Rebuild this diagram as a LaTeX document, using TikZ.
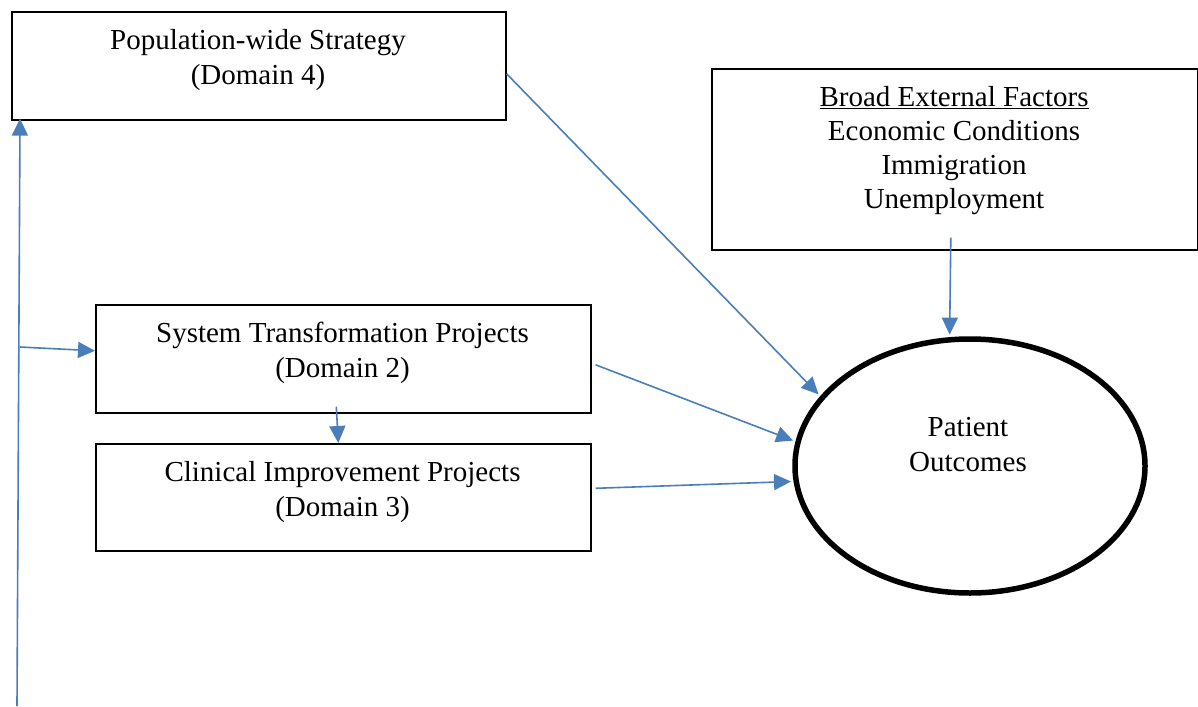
\documentclass[tikz,border=0pt]{standalone}
\usepackage{fontspec}
\setmainfont{Liberation Serif}
\usetikzlibrary{arrows.meta,shapes.geometric}
\definecolor{arrblue}{RGB}{74,126,187}
\begin{document}
\begin{tikzpicture}[x=1pt,y=-1pt,
  box/.style={draw=black, line width=1.6pt, rectangle, inner sep=0pt, anchor=north west},
  txt/.style={align=center, inner sep=0pt, anchor=north, font=\fontsize{29}{35}\selectfont},
  arr/.style={draw=arrblue, line width=1.6pt, -{Triangle[length=17pt,width=16pt]}},
  toell/.style={arr, shorten >=2.5pt}]
\useasboundingbox[fill=white] (0,0) rectangle (1198,706);
% boxes
\node[box, minimum width=494pt, minimum height=108pt] (pop) at (11,11) {};
\node[txt] (popT) at (258,29) {Population-wide Strategy\\(Domain 4)};
\node[box, minimum width=486pt, minimum height=181pt] (ext) at (711,68) {};
\node[txt, font=\fontsize{29}{34}\selectfont] (extT) at (954,86) {\underline{Broad External Factors}\\Economic Conditions\\Immigration\\Unemployment};
\node[box, minimum width=495pt, minimum height=108pt] (st) at (95,304) {};
\node[txt] (stT) at (342.5,322) {System Transformation Projects\\(Domain 2)};
\node[box, minimum width=495pt, minimum height=107pt] (ci) at (95,443) {};
\node[txt] (ciT) at (342.5,461) {Clinical Improvement Projects\\(Domain 3)};
% ellipse
\node[ellipse, draw=black, line width=5.5pt, minimum width=350pt, minimum height=254pt, inner sep=0pt] (po) at (970,466) {};
\node[txt] (poT) at (968,417) {Patient\\Outcomes};
% connectors
\coordinate (vb) at (17,706);
\coordinate (br) at (20,347);
\draw[arr] (vb) -- ([xshift=9,yshift=2]pop.south west);
\draw[arr] (br) -- ([yshift=8]st.west);
\draw[arr] ([xshift=-7,yshift=7]st.south) -- ([xshift=-5]ci.north);
\draw[toell] ([yshift=-8]pop.east) -- (po.155);
\draw[toell] ([xshift=-4,yshift=13]ext.south) -- (po.99);
\draw[toell] ([xshift=4,yshift=-6]st.east) -- (po.172);
\draw[toell] ([xshift=4,yshift=9]ci.east) -- (po.185);
\end{tikzpicture}
\end{document}
